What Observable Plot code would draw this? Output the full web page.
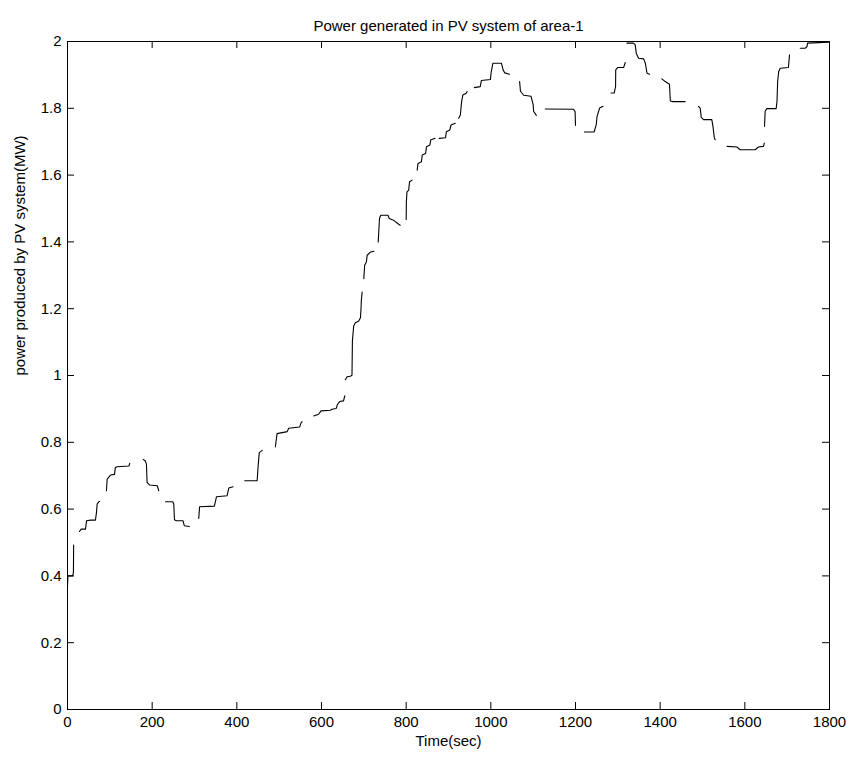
<!DOCTYPE html>
<html>
<head>
<meta charset="utf-8">
<script src="https://cdn.jsdelivr.net/npm/d3@7"></script>
<script src="https://cdn.jsdelivr.net/npm/@observablehq/plot@0.6"></script>
<style>
  html, body { margin: 0; padding: 0; background: #fff; }
  #chart svg { display: block; }
</style>
</head>
<body>
<div id="chart"></div>
<script>
// Text
const titleText = "Power generated in PV system of area-1";
const xLabelText = "Time(sec)";
const yLabelText = "power produced by PV system(MW)";

// Tick values
const xTicks = [0, 200, 400, 600, 800, 1000, 1200, 1400, 1600, 1800];
const yTicks = [0, 0.2, 0.4, 0.6, 0.8, 1, 1.2, 1.4, 1.6, 1.8, 2];

// Series (null = gap between dashes)
const time = [
  0, 1, 12, 14, 14.5, null,
  28.3, 32.3, 42.5, 45, 54.3, 66, 68.5, 70, 74, 76, null,
  92, 93.7, 101.5, 111, 113, 117, 145, 147, null,
  178.7, 184, 186.5, 188, 194, 212, 215.6, null,
  231.4, 248.6, 251, 252.7, 257, 273, 276, 288, null,
  310, 312, 347, 352, 377, 381, 391, null,
  418.7, 448, 450, 453, 460, null,
  491, 495, 519, 522.5, 548.5, 552, 554, null,
  581.6, 593, 599, 621, 625, 634.5, 638, 643, 652, 655, null,
  656.4, 660.5, 668, 672, 673, 676, 680, 688, 692, 693.5, 694, 696, null,
  700, 702, 706, 708, 716, 724, null,
  734, 737, 740, 757, 760, 770, 775, 780, 786, null,
  800, 800.5, 802, 806, 808, 814, null,
  826, 828, 836, 838, 846, 848, 856, 858, 868, null,
  878, 893, 895, 903, 906, 916, null,
  924, 928, 931, 934, 942, 944, null,
  961, 975, 977.6, 999, 1001, 1005, 1025, 1029, 1033, 1044, null,
  1068, 1070, 1077.5, 1095, 1100, 1101, 1107.5, null,
  1128.7, 1195.5, 1199, 1200, null,
  1221, 1244, 1249, 1251, 1257, 1265, null,
  1284, 1291.6, 1294.7, 1295, 1299.5, 1313.6, 1317.6, null,
  1321.6, 1337, 1341, 1343.5, 1349, 1361, 1365, 1369, 1375, null,
  1404, 1412, 1422, 1424, 1430, 1459, null,
  1490.7, 1494.7, 1497, 1502.5, 1522, 1524.8, 1528, 1530, null,
  1558, 1581, 1589, 1624.5, 1632, 1644, 1646, null,
  1646.5, 1648, 1652, 1674, 1676, 1677.5, 1680, 1683.6, 1703, 1705.5, null,
  1731, 1743, 1747, 1748, 1800
];
const power = [
  0.369, 0.40, 0.40, 0.41, 0.492, null,
  0.533, 0.540, 0.540, 0.565, 0.567, 0.567, 0.590, 0.615, 0.622, 0.623, null,
  0.655, 0.690, 0.702, 0.704, 0.724, 0.727, 0.729, 0.737, null,
  0.749, 0.744, 0.734, 0.680, 0.672, 0.670, 0.655, null,
  0.622, 0.622, 0.615, 0.568, 0.565, 0.565, 0.550, 0.548, null,
  0.572, 0.607, 0.609, 0.637, 0.640, 0.663, 0.667, null,
  0.685, 0.685, 0.724, 0.769, 0.776, null,
  0.786, 0.826, 0.832, 0.842, 0.846, 0.859, 0.862, null,
  0.879, 0.884, 0.894, 0.896, 0.899, 0.901, 0.914, 0.922, 0.924, 0.939, null,
  0.987, 0.996, 0.998, 1.001, 1.103, 1.148, 1.158, 1.163, 1.173, 1.203, 1.223, 1.25, null,
  1.29, 1.33, 1.34, 1.36, 1.37, 1.372, null,
  1.40, 1.47, 1.48, 1.48, 1.47, 1.465, 1.46, 1.455, 1.45, null,
  1.467, 1.52, 1.55, 1.555, 1.58, 1.585, null,
  1.615, 1.635, 1.64, 1.66, 1.665, 1.685, 1.69, 1.705, 1.71, null,
  1.71, 1.712, 1.73, 1.735, 1.75, 1.755, null,
  1.77, 1.78, 1.82, 1.84, 1.845, 1.85, null,
  1.862, 1.865, 1.883, 1.886, 1.91, 1.935, 1.935, 1.915, 1.906, 1.902, null,
  1.880, 1.851, 1.839, 1.836, 1.811, 1.791, 1.779, null,
  1.798, 1.797, 1.79, 1.749, null,
  1.729, 1.729, 1.751, 1.776, 1.801, 1.806, null,
  1.846, 1.846, 1.866, 1.915, 1.922, 1.922, 1.937, null,
  1.995, 1.995, 1.99, 1.965, 1.95, 1.948, 1.935, 1.905, 1.902, null,
  1.888, 1.880, 1.872, 1.822, 1.820, 1.820, null,
  1.806, 1.80, 1.773, 1.766, 1.766, 1.745, 1.711, 1.706, null,
  1.686, 1.684, 1.676, 1.676, 1.684, 1.686, 1.696, null,
  1.746, 1.791, 1.799, 1.799, 1.821, 1.880, 1.910, 1.920, 1.922, 1.960, null,
  1.980, 1.980, 1.985, 1.995, 1.998
];

const data = time.map((t, i) => ({t: t, p: power[i] == null ? NaN : power[i]}));
const font = "'Liberation Sans', Arial, Helvetica, sans-serif";
const W = 851, H = 765;
const mL = 67, mR = 22, mT = 41, mB = 56;
const plotH = H - mT - mB, plotW = W - mL - mR;
const tickLen = 7;

const chart = Plot.plot({
  width: W,
  height: H,
  marginLeft: mL,
  marginRight: mR,
  marginTop: mT,
  marginBottom: mB,
  style: {fontFamily: font, fontSize: "15px", color: "#000", background: "#fff"},
  x: {domain: [0, 1800]},
  y: {domain: [0, 2]},
  marks: [
    Plot.frame({stroke: "#000", strokeWidth: 1}),
    Plot.axisX({ticks: xTicks, tickSize: 0, tickPadding: 7, label: null, fontSize: 15, tickFormat: d => String(d)}),
    Plot.axisY({ticks: yTicks, tickSize: 0, tickPadding: 6, label: null, fontSize: 15, tickFormat: d => String(d)}),
    Plot.tickX(xTicks, {x: d => d, insetTop: plotH - tickLen, stroke: "#000"}),
    Plot.tickX(xTicks, {x: d => d, insetBottom: plotH - tickLen, stroke: "#000"}),
    Plot.tickY(yTicks, {y: d => d, insetRight: plotW - tickLen, stroke: "#000"}),
    Plot.tickY(yTicks, {y: d => d, insetLeft: plotW - tickLen, stroke: "#000"}),
    Plot.line(data, {x: "t", y: "p", stroke: "#000", strokeWidth: 1.1, curve: "linear"}),
    Plot.text([titleText], {text: d => d, frameAnchor: "top", dy: -21, fontSize: 15}),
    Plot.text([xLabelText], {text: d => d, frameAnchor: "bottom", dy: 36, fontSize: 15}),
    Plot.text([yLabelText], {text: d => d, frameAnchor: "left", dx: -47, rotate: -90, fontSize: 15})
  ]
});
document.getElementById("chart").appendChild(chart);
</script>
</body>
</html>
